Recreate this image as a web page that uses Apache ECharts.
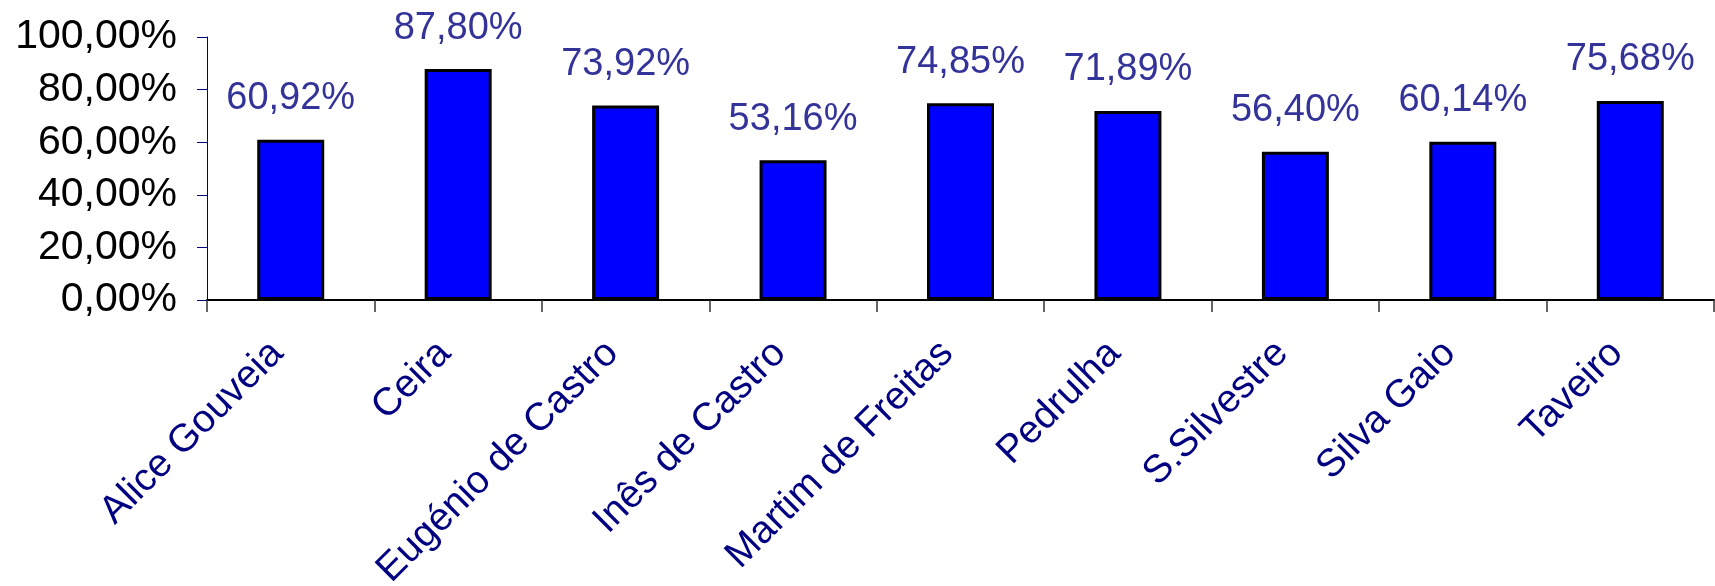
<!DOCTYPE html>
<html>
<head>
<meta charset="utf-8">
<script src="https://cdn.jsdelivr.net/npm/echarts@6/dist/echarts.min.js"></script>
<style>
  html, body { margin: 0; padding: 0; background: #fff; }
  #chart { width: 1715px; height: 586px; }
</style>
</head>
<body>
<div id="chart"></div>
<script>
const categories = ['Alice Gouveia', 'Ceira', 'Eugénio de Castro', 'Inês de Castro', 'Martim de Freitas', 'Pedrulha', 'S.Silvestre', 'Silva Gaio', 'Taveiro']
const values = [60.92, 87.80, 73.92, 53.16, 74.85, 71.89, 56.40, 60.14, 75.68]

// 0,00% style with comma decimals
const pct = v => Number(v).toFixed(2).replace('.', ',') + '%'

const chartInstance = echarts.init(document.getElementById('chart'))
const option = {
  animation: false,
  textStyle: { fontFamily: 'Liberation Sans, Arial, sans-serif' },
  grid: {
    left: 207,
    right: 1,
    top: 37,
    bottom: 286,
    outerBoundsMode: 'none' // keep the plot where it is, labels may run to the edge
  },
  xAxis: {
    type: 'category',
    data: categories,
    axisLine: { lineStyle: { color: '#000', width: 2 } },
    axisTick: { show: true, length: 12, lineStyle: { color: '#333', width: 1.5 } },
    axisLabel: {
      interval: 0,
      rotate: 45,
      margin: 34,
      padding: [0, 19, 0, 0], // nudges rotated labels a bit left of the category centre
      fontSize: 39,
      color: '#000080'
    }
  },
  yAxis: {
    type: 'value',
    min: 0,
    max: 100,
    interval: 20,
    splitLine: { show: false },
    axisLine: { show: true, lineStyle: { color: '#000080', width: 1 } },
    axisTick: { show: true, length: 10, lineStyle: { color: '#000080' } },
    axisLabel: {
      margin: 30,
      fontSize: 41,
      color: '#000',
      formatter: pct
    }
  },
  series: [
    {
      type: 'bar',
      data: values,
      barWidth: '40%',
      itemStyle: {
        color: '#0000ff',
        borderColor: '#000',
        borderWidth: 3
      },
      label: {
        show: true,
        position: 'top',
        distance: 22,
        fontSize: 38,
        color: '#333399',
        formatter: p => pct(p.value)
      }
    }
  ]
}
chartInstance.setOption(option)
</script>
</body>
</html>
